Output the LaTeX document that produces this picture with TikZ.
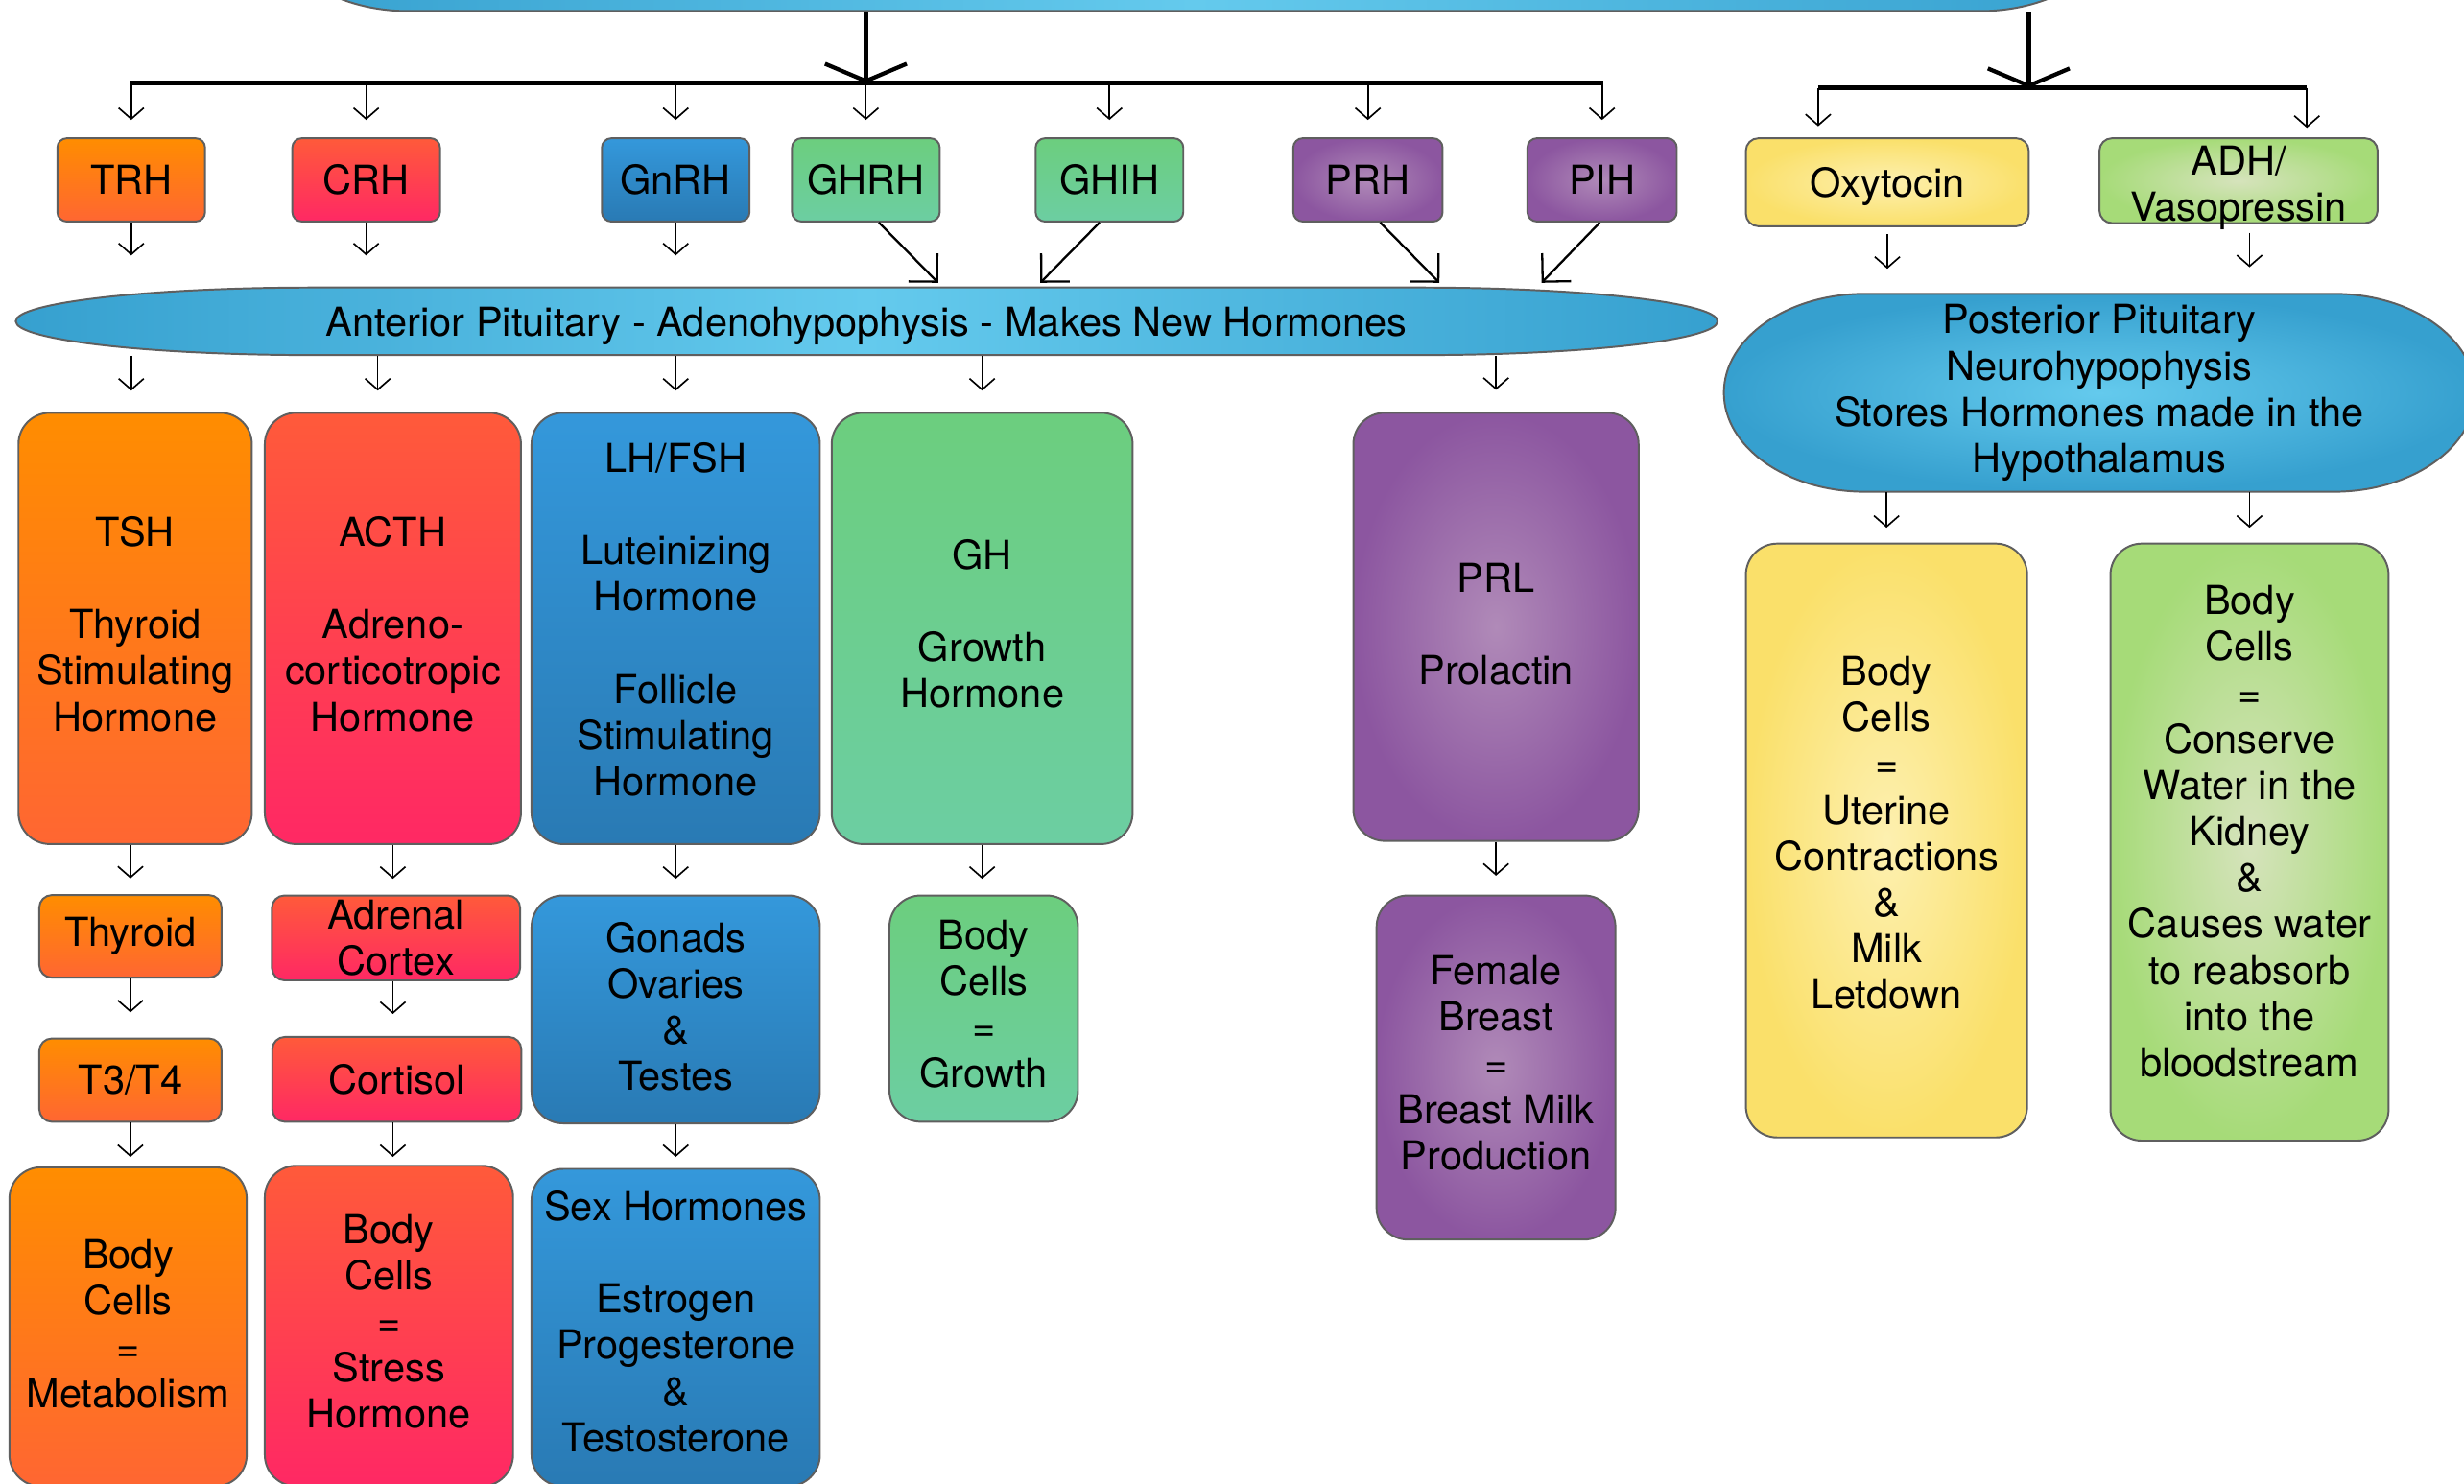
\documentclass[tikz,border=0pt]{standalone}
\usepackage{fontspec}
\setmainfont{TeX Gyre Heros}
\usetikzlibrary{arrows.meta,shapes.geometric}
\definecolor{orT}{RGB}{255,141,0}
\definecolor{orB}{RGB}{255,102,50}
\definecolor{rdT}{RGB}{255,90,58}
\definecolor{rdB}{RGB}{255,40,100}
\definecolor{blT}{RGB}{52,152,219}
\definecolor{blB}{RGB}{41,122,180}
\definecolor{gnT}{RGB}{108,206,126}
\definecolor{gnB}{RGB}{108,206,162}
\definecolor{puI}{RGB}{176,138,184}
\definecolor{puO}{RGB}{140,86,160}
\definecolor{yeI}{RGB}{253,240,176}
\definecolor{yeO}{RGB}{250,224,106}
\definecolor{lgI}{RGB}{214,227,188}
\definecolor{lgO}{RGB}{166,219,120}
\definecolor{cyE}{RGB}{54,160,207}
\definecolor{cyM}{RGB}{100,202,237}
\definecolor{bordc}{RGB}{95,95,95}
% raise a multi-line text block by (14.7pt - #1)/2
\newcommand{\mylift}[1]{\\[-#1]\mbox{}}
\tikzset{
  every node/.style={font=\fontsize{12.7}{14.7}\selectfont},
  box/.style={draw=bordc, line width=0.6pt, inner sep=0pt, align=center},
  sm/.style={box, rounded corners=3pt},
  bigbox/.style={box, rounded corners=10pt},
  orange/.style={top color=orT, bottom color=orB},
  redbox/.style={top color=rdT, bottom color=rdB},
  bluebox/.style={top color=blT, bottom color=blB},
  greenbox/.style={top color=gnT, bottom color=gnB},
  purplebox/.style={inner color=puI, outer color=puO},
  yellowbox/.style={inner color=yeI, outer color=yeO},
  limebox/.style={inner color=lgI, outer color=lgO},
  sarrow/.style={-{Straight Barb[length=3.5pt,width=8pt]}, line width=0.5pt},
  darrow/.style={-{Straight Barb[length=6.4pt,width=12.8pt]}, line width=0.7pt},
  bigarrow/.style={-{Straight Barb[length=5.5pt,width=26pt]}, line width=1.3pt},
  bar/.style={line width=1.6pt},
}
\begin{document}
\begin{tikzpicture}[x=0.5pt,y=-0.5pt]
\useasboundingbox (0,0) rectangle (1568,944);
\fill[white] (0,0) rectangle (1568,944);
\clip (0,0) rectangle (1568,944);

% top (hypothalamus) shape, mostly outside the picture
\path[draw=bordc, line width=0.6pt, left color=cyE, right color=cyE, middle color=cyM]
  (260,-119) -- (1260,-119)
  .. controls (1309.7,-119) and (1350,-90.8) .. (1350,-56)
  .. controls (1350,-21.2) and (1309.7,7) .. (1260,7)
  -- (260,7)
  .. controls (210.3,7) and (170,-21.2) .. (170,-56)
  .. controls (170,-90.8) and (210.3,-119) .. (260,-119) -- cycle;
\node[minimum width=590pt, minimum height=63pt, inner sep=0pt] (hypo) at (760,-56) {};

% posterior pituitary shape
\path[draw=bordc, line width=0.6pt, inner color=cyM, outer color=cyE]
  (1187,187) -- (1485,187)
  .. controls (1534.7,187) and (1575,215.2) .. (1575,250)
  .. controls (1575,284.8) and (1534.7,313) .. (1485,313)
  -- (1187,313)
  .. controls (1137.3,313) and (1097,284.8) .. (1097,250)
  .. controls (1097,215.2) and (1137.3,187) .. (1187,187) -- cycle;
\node[minimum width=239pt, minimum height=63pt, inner sep=0pt, align=center] (post) at (1336,250)
  {Posterior Pituitary\\Neurohypophysis\\Stores Hormones made in the\\Hypothalamus};

% anterior pituitary shape
\path[draw=bordc, line width=0.6pt, left color=cyE, right color=cyE, middle color=cyM]
  (200,183) -- (903,183)
  .. controls (1007.9,183) and (1093,192.6) .. (1093,204.5)
  .. controls (1093,216.4) and (1007.9,226) .. (903,226)
  -- (200,226)
  .. controls (95.1,226) and (10,216.4) .. (10,204.5)
  .. controls (10,192.6) and (95.1,183) .. (200,183) -- cycle;
\node[inner sep=0pt, text depth=0pt, minimum width=541.5pt, minimum height=21.5pt] (ant) at (551.5,204.5)
  {Anterior Pituitary - Adenohypophysis - Makes New Hormones};

% releasing hormones
\node[sm, orange, minimum width=47pt, minimum height=26.5pt] (TRH) at (83.5,114.5) {TRH};
\node[sm, redbox, minimum width=47pt, minimum height=26.5pt] (CRH) at (233,114.5) {CRH};
\node[sm, bluebox, minimum width=47pt, minimum height=26.5pt] (GnRH) at (430,114.5) {GnRH};
\node[sm, greenbox, minimum width=47pt, minimum height=26.5pt] (GHRH) at (551,114.5) {GHRH};
\node[sm, greenbox, minimum width=47pt, minimum height=26.5pt] (GHIH) at (706,114.5) {GHIH};
\node[sm, purplebox, minimum width=47.5pt, minimum height=26.5pt] (PRH) at (870.5,114.5) {PRH};
\node[sm, purplebox, minimum width=47.5pt, minimum height=26.5pt] (PIH) at (1019.5,114.5) {PIH};
\node[sm, yellowbox, rounded corners=4pt, text depth=0pt, minimum width=90pt, minimum height=28pt] (Oxy) at (1201,116) {Oxytocin};
\node[sm, limebox, rounded corners=4pt, minimum width=88.5pt, minimum height=27pt] (ADH) at (1424.5,115) {ADH/\\Vasopressin\mylift{16.7pt}};

% anterior hormones
\node[bigbox, orange, minimum width=74.25pt, minimum height=137.25pt] (TSH) at (86,400)
  {TSH\\[14.7pt]Thyroid\\Stimulating\\Hormone\mylift{11.7pt}};
\node[bigbox, redbox, minimum width=81.5pt, minimum height=137.25pt] (ACTH) at (250,400)
  {ACTH\\[14.7pt]Adreno-\\corticotropic\\Hormone\mylift{11.7pt}};
\node[bigbox, bluebox, minimum width=91.75pt, minimum height=137.25pt] (LH) at (430,400)
  {LH/FSH\\[14.7pt]Luteinizing\\Hormone\\[14.7pt]Follicle\\Stimulating\\Hormone\mylift{8.7pt}};
\node[bigbox, greenbox, minimum width=95.75pt, minimum height=137.25pt] (GH) at (625,400)
  {GH\\[14.7pt]Growth\\Hormone\mylift{11.7pt}};
\node[bigbox, purplebox, minimum width=90.75pt, minimum height=136.25pt] (PRL) at (952,399)
  {PRL\\[14.7pt]Prolactin\mylift{12.7pt}};

% posterior effects
\node[bigbox, yellowbox, minimum width=89.5pt, minimum height=189pt] (OxyE) at (1200.5,535)
  {Body\\Cells\\=\\Uterine\\Contractions\\\&\\Milk\\Letdown\mylift{9.7pt}};
\node[bigbox, limebox, minimum width=88.5pt, minimum height=190pt] (ADHE) at (1431.5,536)
  {Body\\Cells\\=\\Conserve\\Water in the\\Kidney\\\&\\Causes water\\to reabsorb\\into the\\bloodstream\mylift{7.7pt}};

% second row
\node[sm, orange, rounded corners=4pt, minimum width=58pt, minimum height=26.25pt] (Thyroid) at (83,596) {Thyroid};
\node[sm, redbox, rounded corners=4pt, minimum width=79pt, minimum height=27pt] (Adrenal) at (252,597) {Adrenal\\Cortex};
\node[bigbox, bluebox, minimum width=91.75pt, minimum height=72.5pt] (Gonads) at (430,642.5)
  {Gonads\\Ovaries\\\&\\Testes\mylift{12.7pt}};
\node[bigbox, greenbox, minimum width=60pt, minimum height=72pt] (BodyG) at (626,642)
  {Body\\Cells\\=\\Growth\mylift{11.7pt}};
\node[bigbox, purplebox, minimum width=76pt, minimum height=109.5pt] (Female) at (952,679.5)
  {Female\\Breast\\=\\Breast Milk\\Production\mylift{11.7pt}};
\node[sm, orange, rounded corners=4pt, minimum width=58pt, minimum height=26.5pt] (T3) at (83,687.5) {T3/T4};
\node[sm, redbox, rounded corners=4pt, minimum width=79.25pt, minimum height=27pt] (Cortisol) at (252.5,687) {Cortisol};

% bottom row
\node[bigbox, orange, minimum width=75.5pt, minimum height=101.5pt] (Metab) at (81.5,844.5)
  {Body\\Cells\\=\\Metabolism\mylift{12.7pt}};
\node[bigbox, redbox, minimum width=79pt, minimum height=102pt] (Stress) at (247.5,844)
  {Body\\Cells\\=\\Stress\\Hormone\mylift{11.7pt}};
\node[bigbox, bluebox, minimum width=91.75pt, minimum height=101pt] (Sex) at (430,845)
  {Sex Hormones\\[14.7pt]Estrogen\\Progesterone\\\&\\Testosterone\mylift{10.7pt}};

% bars
\coordinate (hl) at (83,53);
\coordinate (hr) at (1020,53);
\coordinate (hm) at (551,53);
\coordinate (pl) at (1157,56);
\coordinate (pr) at (1468,56);
\coordinate (pm) at (1291,56);
\draw[bar] (hl) -- (hr);
\draw[bar] (pl) -- (pr);
\draw[bigarrow] (hypo.south -| hm) -- (hm);
\draw[bigarrow] (hypo.south -| pm) -- (pm);

% bar to releasing hormones
\foreach \n in {TRH,CRH,GnRH,GHRH,GHIH,PRH,PIH}
  \draw[sarrow, shorten >=5.5pt] (\n.north |- hl) -- (\n.north);
\draw[sarrow, shorten >=3.5pt] (pl) -- (pl |- Oxy.north);
\draw[sarrow, shorten >=3pt] (pr) -- (pr |- ADH.north);

% releasing hormones to anterior pituitary
\foreach \n in {TRH,CRH,GnRH}
  \draw[sarrow, shorten >=10pt] (\n.south) -- (\n.south |- ant.north);
\coordinate (d1) at (597,180);
\coordinate (d2) at (662,180);
\coordinate (d3) at (916,180);
\coordinate (d4) at (981,180);
\draw[darrow] (GHRH.-73) -- (d1);
\draw[darrow] (GHIH.-103) -- (d2);
\draw[darrow] (PRH.-74) -- (d3);
\draw[darrow] (PIH.-93) -- (d4);

% oxytocin / ADH to posterior
\draw[sarrow, shorten <=2.25pt, shorten >=7.75pt] (Oxy.south) -- (Oxy.south |- post.north);
\draw[sarrow, shorten <=2.75pt, shorten >=8.25pt] (ADHE.north |- ADH.south) -- (ADHE.north |- post.north);

% anterior to its hormones
\draw[sarrow, shorten >=6.75pt] (TRH.south |- ant.south) -- (TRH.south |- TSH.north);
\draw[sarrow, shorten >=6.75pt] (ACTH.94 |- ant.south) -- (ACTH.94);
\draw[sarrow, shorten >=6.75pt] (LH.north |- ant.south) -- (LH.north);
\draw[sarrow, shorten >=6.75pt] (GH.north |- ant.south) -- (GH.north);
\draw[sarrow, shorten >=7pt] (PRL.north |- ant.south) -- (PRL.north);

% down the columns
\draw[sarrow, shorten >=5pt] (Thyroid.north |- TSH.south) -- (Thyroid.north);
\draw[sarrow, shorten >=5pt] (ACTH.south) -- (ACTH.south |- Adrenal.north);
\draw[sarrow, shorten >=5pt] (LH.south) -- (Gonads.north);
\draw[sarrow, shorten >=5pt] (GH.south) -- (GH.south |- BodyG.north);
\draw[sarrow, shorten >=6pt] (PRL.south) -- (Female.north);
\draw[sarrow, shorten >=8pt] (Thyroid.south) -- (T3.north);
\draw[sarrow, shorten >=7pt] (ACTH.south |- Adrenal.south) -- (ACTH.south |- Cortisol.north);
\draw[sarrow, shorten >=3pt] (T3.south) -- (T3.south |- Metab.north);
\draw[sarrow, shorten >=2.5pt] (ACTH.south |- Cortisol.south) -- (ACTH.south |- Stress.north);
\draw[sarrow, shorten >=3.5pt] (Gonads.south) -- (Sex.north);

% posterior to effects
\draw[sarrow, shorten >=4.75pt] (OxyE.north |- post.south) -- (OxyE.north);
\draw[sarrow, shorten >=4.75pt] (ADHE.north |- post.south) -- (ADHE.north);
\end{tikzpicture}
\end{document}
